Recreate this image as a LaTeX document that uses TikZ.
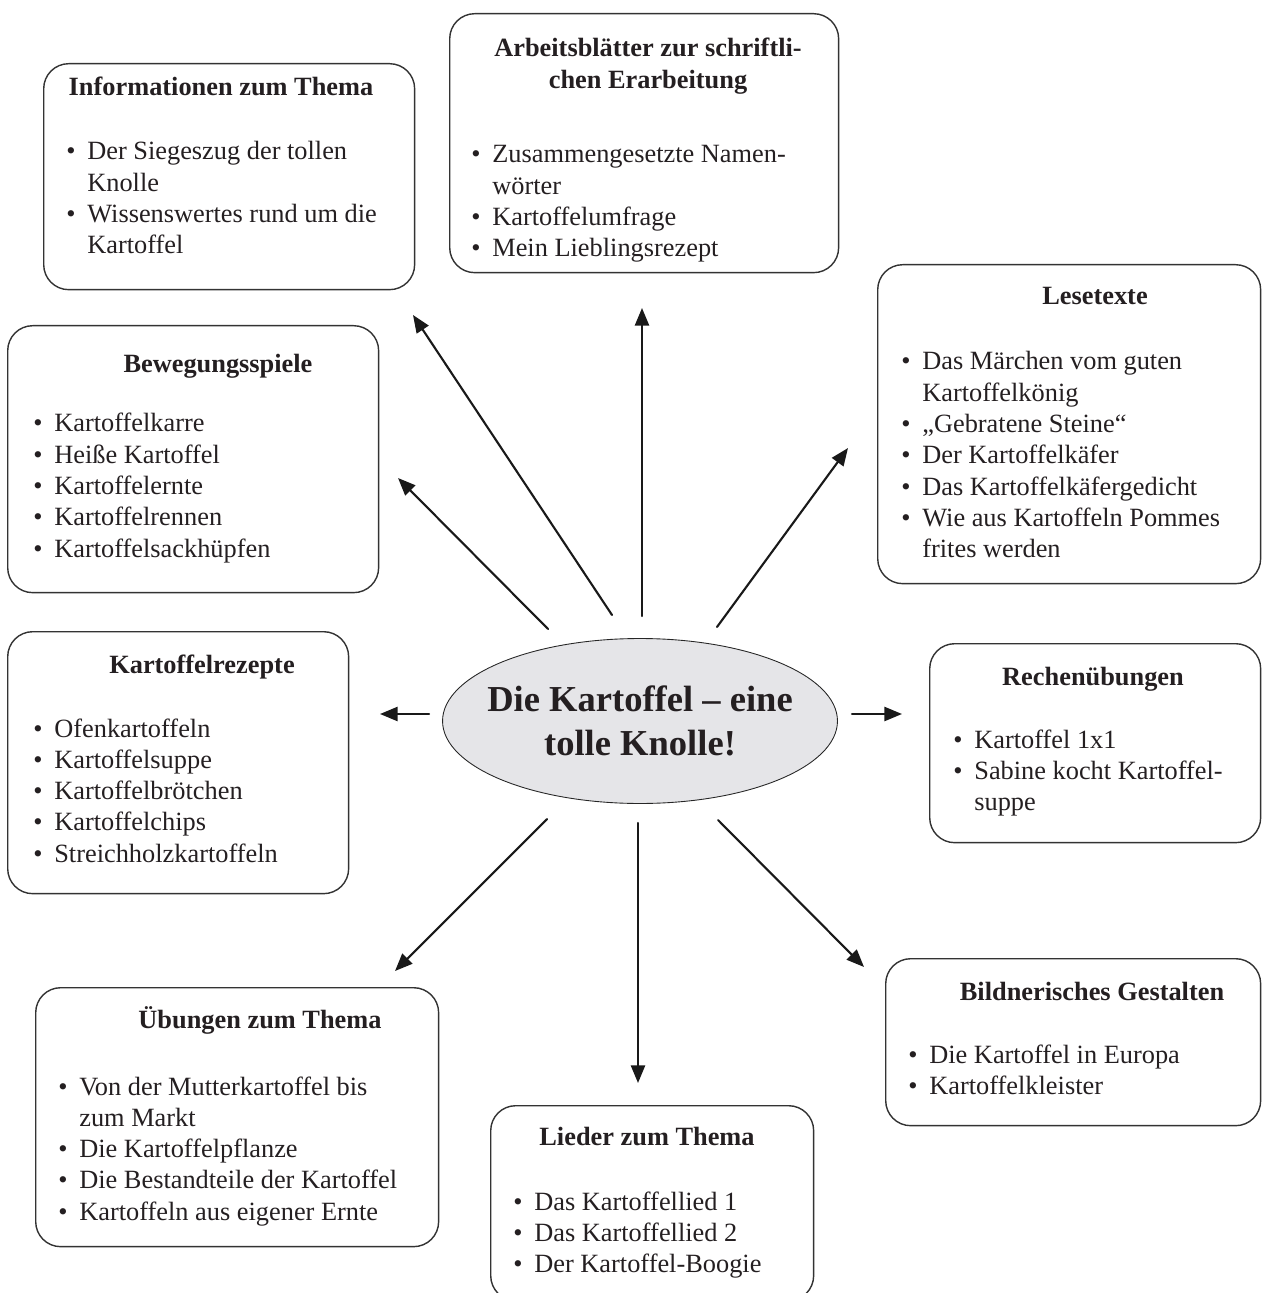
\documentclass[tikz,border=0pt]{standalone}
\usepackage{fontspec}
\setmainfont{Liberation Serif}
\usetikzlibrary{arrows.meta,shapes.geometric}
\definecolor{schrift}{rgb}{0.14,0.12,0.13}
\definecolor{knolle}{rgb}{0.9,0.9,0.91}
\newcommand{\pkt}{\makebox[0.42cm][l]{\textbullet}}
\newcommand{\ein}{\hspace*{0.42cm}}

\begin{document}
\begin{tikzpicture}[x=0.02cm,y=-0.02cm,line cap=round,line join=round,
    rahmen/.style={draw=black!80,line width=0.8pt,rounded corners=0.5cm,anchor=north west,inner sep=0pt},
    kopf/.style={font=\fontsize{15}{17.8}\selectfont\bfseries,text=schrift,anchor=base,inner sep=0pt},
    liste/.style={font=\fontsize{15}{17.8}\selectfont,text=schrift,anchor=base west,inner sep=0pt},
    pfeil/.style={-{Triangle[length=10pt,width=8pt]},line width=1.2pt,black!90}]

    \useasboundingbox (0,0) rectangle (1261,1293);

    % Mitte
    \node[ellipse,draw=black!85,line width=0.5pt,fill=knolle,minimum width=7.9cm,minimum height=3.3cm] (mitte) at (640,721) {};
    \node[align=center,inner sep=0pt,text=schrift,font=\fontsize{20.8}{25}\selectfont\bfseries] (mitteT) at (mitte) {Die Kartoffel – eine\\tolle Knolle!};

    % Informationen
    \node[rahmen,minimum width=7.42cm,minimum height=4.52cm] (info) at (43,63) {};
    \node[kopf] (infoK) at (221,96) {Informationen zum Thema};
    \node[liste] (infoL) at (66,160) {\begin{tabular}[t]{@{}l@{}}\pkt Der Siegeszug der tollen\\ \ein Knolle\\ \pkt Wissenswertes rund um die\\ \ein Kartoffel\end{tabular}};

    % Arbeitsblaetter
    \node[rahmen,minimum width=7.78cm,minimum height=5.18cm] (arbeit) at (449,13) {};
    \node[kopf] (arbeitK) at (648,57) {\begin{tabular}[t]{@{}c@{}}Arbeitsblätter zur schriftli-\\chen Erarbeitung\end{tabular}};
    \node[liste] (arbeitL) at (471,163) {\begin{tabular}[t]{@{}l@{}}\pkt Zusammengesetzte Namen-\\ \ein wörter\\ \pkt Kartoffelumfrage\\ \pkt Mein Lieblingsrezept\end{tabular}};

    % Lesetexte
    \node[rahmen,minimum width=7.66cm,minimum height=6.38cm] (lese) at (877,264) {};
    \node[kopf] (leseK) at (1095,305) {Lesetexte};
    \node[liste] (leseL) at (901,370) {\begin{tabular}[t]{@{}l@{}}\pkt Das Märchen vom guten\\ \ein Kartoffelkönig\\ \pkt „Gebratene Steine“\\ \pkt Der Kartoffelkäfer\\ \pkt Das Kartoffelkäfergedicht\\ \pkt Wie aus Kartoffeln Pommes\\ \ein frites werden\end{tabular}};

    % Bewegungsspiele
    \node[rahmen,minimum width=7.42cm,minimum height=5.34cm] (beweg) at (7,325) {};
    \node[kopf] (bewegK) at (218,373) {Bewegungsspiele};
    \node[liste] (bewegL) at (33,432) {\begin{tabular}[t]{@{}l@{}}\pkt Kartoffelkarre\\ \pkt Heiße Kartoffel\\ \pkt Kartoffelernte\\ \pkt Kartoffelrennen\\ \pkt Kartoffelsackhüpfen\end{tabular}};

    % Rezepte
    \node[rahmen,minimum width=6.82cm,minimum height=5.24cm] (rezept) at (7,631) {};
    \node[kopf] (rezeptK) at (202,673) {Kartoffelrezepte};
    \node[liste] (rezeptL) at (33,737) {\begin{tabular}[t]{@{}l@{}}\pkt Ofenkartoffeln\\ \pkt Kartoffelsuppe\\ \pkt Kartoffelbrötchen\\ \pkt Kartoffelchips\\ \pkt Streichholzkartoffeln\end{tabular}};

    % Rechenuebungen
    \node[rahmen,minimum width=6.62cm,minimum height=3.98cm] (rechen) at (929,643) {};
    \node[kopf] (rechenK) at (1093,685) {Rechenübungen};
    \node[liste] (rechenL) at (953,748) {\begin{tabular}[t]{@{}l@{}}\pkt Kartoffel 1x1\\ \pkt Sabine kocht Kartoffel-\\ \ein suppe\end{tabular}};

    % Bildnerisches Gestalten
    \node[rahmen,minimum width=7.5cm,minimum height=3.34cm] (bild) at (885,958) {};
    \node[kopf] (bildK) at (1092,1000) {Bildnerisches Gestalten};
    \node[liste] (bildL) at (908,1063) {\begin{tabular}[t]{@{}l@{}}\pkt Die Kartoffel in Europa\\ \pkt Kartoffelkleister\end{tabular}};

    % Uebungen
    \node[rahmen,minimum width=8.06cm,minimum height=5.18cm] (uebung) at (35,987) {};
    \node[kopf] (uebungK) at (260,1028) {Übungen zum Thema};
    \node[liste] (uebungL) at (58,1095) {\begin{tabular}[t]{@{}l@{}}\pkt Von der Mutterkartoffel bis\\ \ein zum Markt\\ \pkt Die Kartoffelpflanze\\ \pkt Die Bestandteile der Kartoffel\\ \pkt Kartoffeln aus eigener Ernte\end{tabular}};

    % Lieder
    \node[rahmen,minimum width=6.46cm,minimum height=3.9cm] (lieder) at (490,1105) {};
    \node[kopf] (liederK) at (647,1145) {Lieder zum Thema};
    \node[liste] (liederL) at (513,1210) {\begin{tabular}[t]{@{}l@{}}\pkt Das Kartoffellied 1\\ \pkt Das Kartoffellied 2\\ \pkt Der Kartoffel-Boogie\end{tabular}};

    % Pfeile
    \coordinate (s1) at (612,615);  \coordinate (e1) at (413,315);
    \coordinate (s2) at (642,616);  \coordinate (e2) at (642,308);
    \coordinate (s3) at (548,629);  \coordinate (e3) at (398,478);
    \coordinate (s4) at (717,627);  \coordinate (e4) at (848,448);
    \coordinate (s5) at (429,714);  \coordinate (e5) at (380,714);
    \coordinate (s6) at (852,714);  \coordinate (e6) at (902,714);
    \coordinate (s7) at (547,819);  \coordinate (e7) at (395,971);
    \coordinate (s8) at (638,823);  \coordinate (e8) at (638,1083);
    \coordinate (s9) at (718,820);  \coordinate (e9) at (864,967);
    \draw[pfeil] (s1) -- (e1);
    \draw[pfeil] (s2) -- (e2);
    \draw[pfeil] (s3) -- (e3);
    \draw[pfeil] (s4) -- (e4);
    \draw[pfeil] (s5) -- (e5);
    \draw[pfeil] (s6) -- (e6);
    \draw[pfeil] (s7) -- (e7);
    \draw[pfeil] (s8) -- (e8);
    \draw[pfeil] (s9) -- (e9);
\end{tikzpicture}
\end{document}
